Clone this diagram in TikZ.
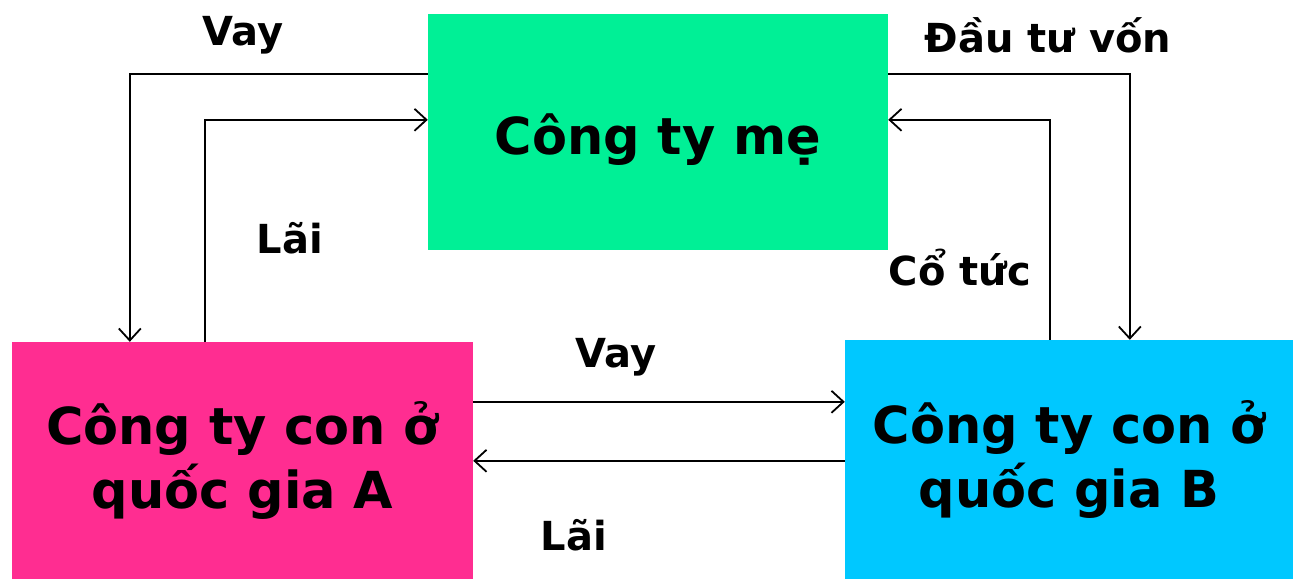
\documentclass[tikz,border=0pt]{standalone}
\usepackage{fontspec}
\setmainfont{DejaVu Sans}
\usepackage{tikz}
\usetikzlibrary{arrows.meta}

\definecolor{mecolor}{RGB}{0,240,150}
\definecolor{acolor}{RGB}{255,45,145}
\definecolor{bcolor}{RGB}{0,200,255}

\tikzset{
  box/.style={inner sep=0pt, align=center, font=\fontsize{51}{64}\selectfont\bfseries},
  lbl/.style={font=\fontsize{40}{48}\selectfont\bfseries},
  flow/.style={-{Straight Barb[length=12pt,width=22pt]}, line width=1.8pt}
}

\begin{document}
\begin{tikzpicture}[x=1pt, y=-1pt]
  \useasboundingbox (0,0) rectangle (1293,579);
  % the three companies
  \node[box, fill=mecolor, minimum width=460pt, minimum height=236pt] (me) at (658,132) {};
  \node[box] (metext) at (658,140) {Công ty mẹ};
  \node[box, fill=acolor, minimum width=461pt, minimum height=237pt] (A) at (242.5,460.5) {Công ty con ở\\quốc gia A};
  \node[box, fill=bcolor, minimum width=448pt, minimum height=239pt] (B) at (1069,459.5) {Công ty con ở\\quốc gia B};

  % flows between them
  \draw[flow] ([yshift=-60pt]me.north west) -| ([xshift=118pt]A.north west);
  \draw[flow] ([xshift=193pt]A.north west) |- ([yshift=-106pt]me.north west);
  \draw[flow] ([yshift=-60pt]me.north east) -| ([xshift=285pt]B.north west);
  \draw[flow] ([xshift=205pt]B.north west) |- ([yshift=-106pt]me.north east);
  \coordinate (v) at ([yshift=-60pt]A.north east);
  \coordinate (l) at ([yshift=-119pt]A.north east);
  \draw[flow] (v) -- (v -| B.west);
  \draw[flow] (l -| B.west) -- (l);

  % labels
  \node[lbl] (vay1) at (243,35) {Vay};
  \node[lbl] (dtv) at (1048,35) {Đầu tư vốn};
  \node[lbl] (lai1) at (290,238) {Lãi};
  \node[lbl] (cotuc) at (960,268) {Cổ tức};
  \node[lbl] (vay2) at (616,357) {Vay};
  \node[lbl] (lai2) at (574,535) {Lãi};
\end{tikzpicture}
\end{document}
